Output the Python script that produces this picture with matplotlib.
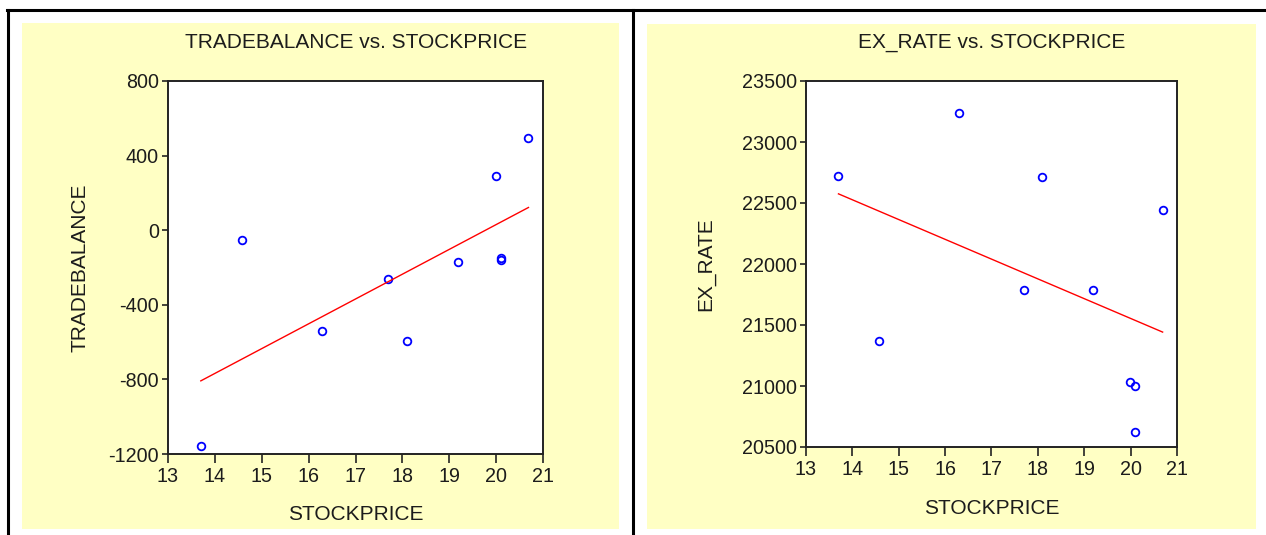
import numpy as np
import matplotlib.pyplot as plt
from matplotlib.patches import Rectangle
from matplotlib.lines import Line2D

# data: stock price against trade balance and exchange rate
stockprice = [13.70, 14.58, 16.29, 17.70, 18.09, 19.19, 19.99, 20.10, 20.10, 20.69]
tradebalance = [-1155, -55, -542, -263, -594, -168, 288, -150, -160, 497]
ex_rate = [22723, 21367, 23236, 21789, 22710, 21789, 21029, 21001, 20620, 22446]

x_ticks = [13, 14, 15, 16, 17, 18, 19, 20, 21]
tb_ticks = [-1200, -800, -400, 0, 400, 800]
er_ticks = [20500, 21000, 21500, 22000, 22500, 23000, 23500]

W, H = 1266, 535
FONT = ['Liberation Sans', 'DejaVu Sans']
TEXT = '#1c1c1c'
YELLOW = '#FFFFC4'
plt.rcParams['axes.unicode_minus'] = False

fig = plt.figure(figsize=(W / 100, H / 100), dpi=100)
fig.patch.set_facecolor('white')


def fx(px):
    return px / W


def fy(py):
    return 1 - py / H


# table frame lines
for (x0, y0, x1, y1) in [(7, 10, W, 10), (8, 10, 8, H), (633, 10, 633, H)]:
    fig.add_artist(Line2D([fx(x0), fx(x1)], [fy(y0), fy(y1)], color='black', lw=2.2,
                          transform=fig.transFigure))

# yellow panel backgrounds
for (x0, y0, x1, y1) in [(22, 23, 619, 529), (647, 24, 1256, 529)]:
    fig.add_artist(Rectangle((fx(x0), fy(y1)), fx(x1) - fx(x0), fy(y0) - fy(y1),
                             facecolor=YELLOW, edgecolor='none', transform=fig.transFigure, zorder=0))


def scatter_panel(box, y, yticks, ylim, title, ylabel, title_x, ylabel_x, xlabel_y):
    left, top, right, bottom = box
    ax = fig.add_axes([fx(left), fy(bottom), fx(right) - fx(left), fy(top) - fy(bottom)])
    ax.set_facecolor('white')
    ax.plot(stockprice, y, linestyle='none', marker='o', markersize=5.5,
            markerfacecolor='none', markeredgecolor='#0000FF', markeredgewidth=1.3, clip_on=False)

    # least squares line over the data range
    b, a = np.polyfit(stockprice, y, 1)
    xs = np.array([min(stockprice), max(stockprice)])
    ax.plot(xs, a + b * xs, color='#FF0000', lw=1.0)

    ax.set_xlim(13, 21)
    ax.set_ylim(*ylim)
    ax.set_xticks(x_ticks)
    ax.set_yticks(yticks)
    for s in ax.spines.values():
        s.set_linewidth(1.4)
        s.set_color('#222222')
    ax.tick_params(axis='x', length=6.5, width=1.2, pad=3, color='#222222')
    ax.tick_params(axis='y', length=4.5, width=1.2, pad=2, color='#222222')
    for lab in ax.get_xticklabels() + ax.get_yticklabels():
        lab.set_family(FONT)
        lab.set_fontsize(14.2)
        lab.set_color(TEXT)

    fig.text(fx(title_x), fy(43), title, ha='center', va='center',
             family=FONT, fontsize=15, color=TEXT)
    fig.text(fx(ylabel_x), fy((top + bottom) / 2), ylabel, ha='center', va='center',
             rotation=90, family=FONT, fontsize=15, color=TEXT)
    fig.text(fx((left + right) / 2), fy(xlabel_y), 'STOCKPRICE', ha='center', va='center',
             family=FONT, fontsize=15, color=TEXT)
    return ax


scatter_panel((168, 81, 543, 454), tradebalance, tb_ticks, (-1200, 800),
              'TRADEBALANCE vs. STOCKPRICE', 'TRADEBALANCE', 356, 80, 515)
scatter_panel((806, 81, 1177, 447), ex_rate, er_ticks, (20500, 23500),
              'EX_RATE vs. STOCKPRICE', 'EX_RATE', 992, 706, 508)

plt.savefig('out.png', dpi=100)
